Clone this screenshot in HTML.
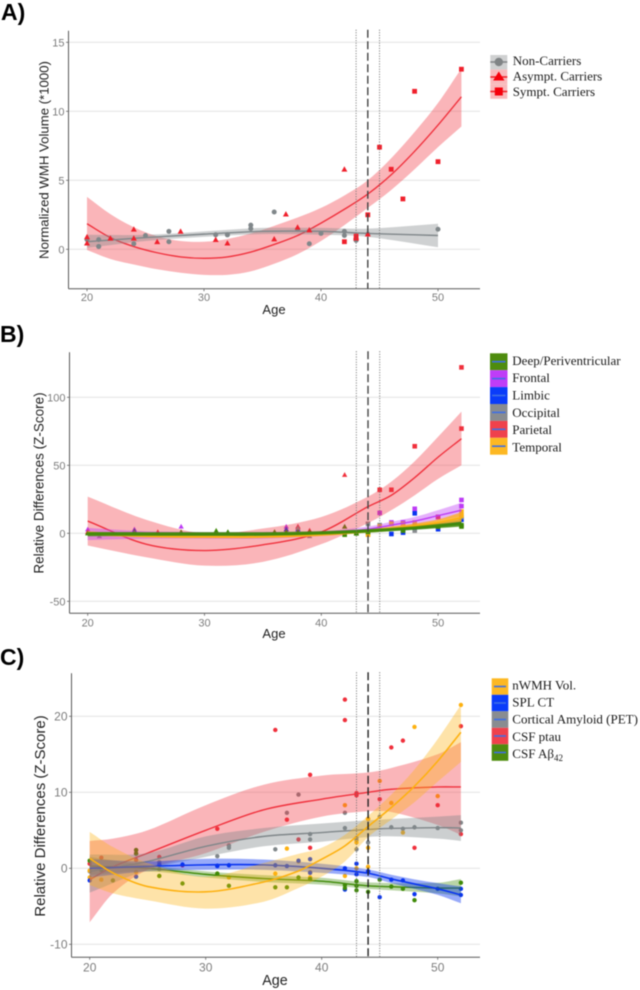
<!DOCTYPE html>
<html lang="en">
<head>
<meta charset="utf-8">
<title>WMH volume and relative differences by age</title>
<style>
html,body{margin:0;padding:0;background:#fff;}
#figure{display:block;width:640px;height:990px;filter:blur(0.4px);}
text{font-family:"Liberation Sans",sans-serif;}
.tick{fill:#7d7d7d;}
.axis-title{fill:#222;}
.panel-tag{font-size:23px;font-weight:bold;fill:#000;}
.legend-text{font-family:"Liberation Serif",serif;font-size:13px;fill:#1a1a1a;}
</style>
</head>
<body>
<svg id="figure" xmlns="http://www.w3.org/2000/svg" width="640" height="990" viewBox="0 0 640 990">
  <text class="panel-tag" x="1" y="20">A)</text>
  <text class="panel-tag" x="0" y="342">B)</text>
  <text class="panel-tag" x="0" y="665">C)</text>

  <g id="panel-a"></g>
  <g id="panel-b"></g>
  <g id="panel-c"></g>

  <g>
    <rect x="490.3" y="55" width="17" height="14.6" fill="#cfd0d1"/>
    <rect x="490.3" y="69.6" width="17" height="14.6" fill="#f9b9bc"/>
    <rect x="490.3" y="84.2" width="17" height="14.6" fill="#f9b9bc"/>
    <line x1="490.3" x2="507.3" y1="62" y2="62" stroke="#808486" stroke-width="1.5"/>
    <circle cx="498.8" cy="62" r="4.2" fill="#808486"/>
    <line x1="490.3" x2="507.3" y1="77" y2="77" stroke="#f01c24" stroke-width="1.5"/>
    <polygon points="498.8,71.5 504.5,80.5 493.1,80.5" fill="#f6000c"/>
    <line x1="490.3" x2="507.3" y1="91.5" y2="91.5" stroke="#f01c24" stroke-width="1.5"/>
    <rect x="494.8" y="87.5" width="8" height="8" fill="#f6000c"/>
    <text class="legend-text" x="512.7" y="65">Non-Carriers</text>
    <text class="legend-text" x="512.7" y="80.5">Asympt. Carriers</text>
    <text class="legend-text" x="512.7" y="96">Sympt. Carriers</text>
  </g>

  <g>
    <rect x="490" y="353.3" width="17.5" height="16.9" fill="#4e8c0e"/>
    <rect x="490" y="370.2" width="17.5" height="16.9" fill="#bf3df7"/>
    <rect x="490" y="387.1" width="17.5" height="16.9" fill="#0a3cfa"/>
    <rect x="490" y="404" width="17.5" height="16.9" fill="#898c90"/>
    <rect x="490" y="420.9" width="17.5" height="16.9" fill="#ef414c"/>
    <rect x="490" y="437.8" width="17.5" height="16.9" fill="#fdb823"/>
    <g stroke="#3e6fe6" stroke-width="1.6">
      <line x1="492" x2="505.5" y1="361.7" y2="361.7"/>
      <line x1="492" x2="505.5" y1="378.6" y2="378.6"/>
      <line x1="492" x2="505.5" y1="395.5" y2="395.5"/>
      <line x1="492" x2="505.5" y1="412.4" y2="412.4"/>
      <line x1="492" x2="505.5" y1="429.3" y2="429.3"/>
      <line x1="492" x2="505.5" y1="446.2" y2="446.2"/>
    </g>
    <text class="legend-text" x="512.3" y="365">Deep/Periventricular</text>
    <text class="legend-text" x="512.3" y="382">Frontal</text>
    <text class="legend-text" x="512.3" y="399.5">Limbic</text>
    <text class="legend-text" x="512.3" y="417">Occipital</text>
    <text class="legend-text" x="512.3" y="434">Parietal</text>
    <text class="legend-text" x="512.3" y="451.5">Temporal</text>
  </g>

  <g>
    <rect x="491.7" y="678.3" width="16.6" height="16.5" fill="#fdb823"/>
    <rect x="491.7" y="694.8" width="16.6" height="16.5" fill="#0a3cfa"/>
    <rect x="491.7" y="711.3" width="16.6" height="16.5" fill="#898c90"/>
    <rect x="491.7" y="727.8" width="16.6" height="16.5" fill="#ef414c"/>
    <rect x="491.7" y="744.3" width="16.6" height="16.5" fill="#4e8c0e"/>
    <g stroke="#3e6fe6" stroke-width="1.6">
      <line x1="494" x2="506" y1="686.5" y2="686.5"/>
      <line x1="494" x2="506" y1="703" y2="703"/>
      <line x1="494" x2="506" y1="719.5" y2="719.5"/>
      <line x1="494" x2="506" y1="736" y2="736"/>
      <line x1="494" x2="506" y1="752.5" y2="752.5"/>
    </g>
    <text class="legend-text" x="512.3" y="689.5">nWMH Vol.</text>
    <text class="legend-text" x="512.3" y="706.5">SPL CT</text>
    <text class="legend-text" x="512.3" y="723.5">Cortical Amyloid (PET)</text>
    <text class="legend-text" x="512.3" y="741">CSF ptau</text>
    <text class="legend-text" x="512.3" y="758">CSF Aβ<tspan font-size="9" dy="3">42</tspan></text>
  </g>
</svg>

<script>
// ---------- shared ----------
const ageTicks = [20, 30, 40, 50];
const onsetLines = [43, 44, 45];

// ---------- panel A data ----------
const aTicks = [0, 5, 10, 15];
const aCurveAges = [20,22,24,26,28,30,32,34,36,38,40,42,44,46,48,50,52];
const aSymptLine = [1.85,0.85,0.2,-0.25,-0.55,-0.65,-0.55,-0.2,0.35,1.0,1.9,2.9,4.0,5.4,7.1,9.0,11.05];
const aSymptUpper = [3.8,2.55,1.6,0.95,0.6,0.55,0.75,1.15,1.7,2.3,3.0,3.9,5.0,6.6,8.5,10.6,13.1];
const aSymptLower = [-0.05,-0.7,-1.1,-1.45,-1.7,-1.85,-1.85,-1.6,-1.05,-0.35,0.6,1.75,3.0,4.3,5.8,7.4,8.9];
const aNonAges = [20,25,30,35,40,44,50];
const aNonLine = [0.55,0.85,1.1,1.3,1.3,1.15,1.0];
const aNonUpper = [1.05,1.05,1.3,1.55,1.55,1.5,1.85];
const aNonLower = [0.1,0.6,0.9,1.1,1.05,0.9,0.15];
const aNonPointAges = [20,21,21,21,24,25,27,27,31,32,32,34,34,36,38,39,40,42,42,43,43,44,50];
const aNonPointValues = [0.7,0.7,0.2,0.2,0.4,1.0,1.3,0.55,1.05,1.05,1.05,1.75,1.5,2.7,1.45,0.4,1.15,1.3,1.0,0.65,0.75,1.1,1.45];
const aAsymptAges = [20,20,22,24,24,26,28,31,32,36,37,38,39,42,43,43,44];
const aAsymptValues = [0.9,0.45,0.8,1.45,0.8,0.55,1.3,0.7,0.45,0.75,2.55,1.6,1.4,5.8,0.9,0.8,1.1];
const aSymptAges = [42,43,44,45,46,47,48,50,52];
const aSymptValues = [0.55,0.95,2.5,7.4,5.8,3.65,11.45,6.35,13.05];

// ---------- panel B data ----------
const bTicks = [-50, 0, 50, 100];
const bCurveAges = [20,25,30,35,40,44,46,48,50,52];
const bParietalLine = [9,-8,-12.7,-8.5,1,19.6,28,41,56,69.6];
const bParietalUpper = [27,10,0,3.5,12,27,38,53,71,89.5];
const bParietalLower = [-9,-17.6,-23.8,-21,-8,7.5,17,28,40,50];
const bFrontalLine = [0,-0.5,-1,-1,0,3,6,9,13,17];
const bFrontalUpper = [4,1.5,1,1,1.5,5,8.5,12,17,22.5];
const bFrontalLower = [-5,-4,-4,-4,-2,1,3.5,6,9,12.5];
const bLimbicLine = [0,-1,-1,-1,0,2,3,4,6,8];
const bLimbicUpper = [1,0,0,0,1,3,4,5.5,7.5,10];
const bLimbicLower = [-1,-2,-2,-2,-1,1,2,2.5,4.5,6];
const bOccipitalLine = [-1,-1,-1,-1,0,2,3,5,7,9.5];
const bOccipitalUpper = [0.5,0,0,0,1,3,4,6.5,8.5,12];
const bOccipitalLower = [-2.5,-2,-2,-2,-1,1,2,3.5,5.5,7];
const bTemporalLine = [0,-2,-2.5,-2.5,-1,1.5,3.5,5.5,8,11.5];
const bTemporalUpper = [1.5,-1,-1.5,-1.5,0,2.8,5,7.2,10.2,15.5];
const bTemporalLower = [-1.5,-3,-3.5,-3.5,-2,0.5,2,4,6,8.5];
const bDeepLine = [-0.5,-0.5,-0.5,-0.5,0.3,1.8,2.8,3.8,5.2,7];
const bDeepUpper = [1,0.9,0.9,0.9,1.6,3.1,4,5.2,6.8,8.6];
const bDeepLower = [-2,-1.9,-1.9,-1.9,-1,0.5,1.5,2.6,3.8,5];

const bFrontalAges = [20,24,28,37,38,39,42,45,46,47,48,50,52,52];
const bFrontalValues = [3,3,5,5,5,2,5,15,8,8,18,12,24.5,20];
const bFrontalSquaresFrom = 7;
const bParietalAges = [20,26,31,32,36,37,38,39,42,43,45,46,48,50,52,52];
const bParietalValues = [1,1,1,0.5,1,3,5,2,43,0,32,32,64,12,122,77];
const bParietalSquaresFrom = 10;
const bLimbicAges = [24,37,38,46,47,48,50,52];
const bLimbicValues = [2,3,3,-0.5,0.5,14.7,3,10];
const bLimbicSquaresFrom = 3;
const bOccipitalAges = [21,39,38,44,45,46,47,48,50,52];
const bOccipitalValues = [-2,-2,4,7,6,7,7,2,5,12];
const bOccipitalSquaresFrom = 3;
const bTemporalAges = [44,45,46,47,48,52,52];
const bTemporalValues = [-1,5,7,7,8,16,13];
const bTemporalSquaresFrom = 0;
const bDeepAges = [20,24,28,31,32,36,37,38,39,42,43,42,43,44,47,48,50,52,52];
const bDeepValues = [0,1,1,2,1,1,1,1,1,5,0,-1,0,1,2,5,5,5,6];
const bDeepSquaresFrom = 11;

// ---------- panel C data ----------
const cTicks = [-10, 0, 10, 20];
const cPtauAges = [20,22,25,30,35,40,44,46,50,52];
const cPtauLine = [-1.5,0.2,2,5,7.7,9.1,10,10.4,10.7,10.7];
const cPtauUpper = [3.6,3.9,5,8.3,11,12.2,12.6,13.2,15,16.6];
const cPtauLower = [-7.1,-3.3,-0.2,2,4.8,6.8,7.5,7.4,5.7,4.4];
const cNwmhAges = [20,22,25,30,35,38,40,42,44,46,48,50,52];
const cNwmhLine = [1.3,-0.6,-2.4,-3.1,-1.8,-0.35,1.2,2.95,5.5,8,10.8,14.1,17.9];
const cNwmhUpper = [4.8,2.8,0.7,-1.1,0.7,1.9,2.7,4.4,6.9,9.7,13,17,21.5];
const cNwmhLower = [-2.2,-3.3,-4.2,-5.3,-4.4,-2.6,-1.1,0.9,4.1,6.4,8.7,11.4,14];
const cAmyloidAges = [20,25,30,35,40,45,50,52];
const cAmyloidLine = [-0.4,0.9,2.9,4.2,4.7,5.2,5.35,5.3];
const cAmyloidUpper = [1.8,2,4.2,5.3,5.9,6.4,6.8,7];
const cAmyloidLower = [-3.2,-0.2,1.5,2.9,3.5,4.2,3.9,3.6];
const cSplAges = [20,25,30,35,40,44,46,48,50,52];
const cSplLine = [0,0.25,0.45,0.45,0,-0.65,-1.4,-2.06,-2.7,-3.5];
const cSplUpper = [1.2,0.9,1.25,1.15,0.6,-0.15,-0.85,-1.45,-1.95,-2.4];
const cSplLower = [-1.2,-0.4,-0.2,-0.2,-0.6,-1.15,-1.95,-2.7,-3.5,-4.6];
const cAbetaAges = [20,25,30,35,40,44,50,52];
const cAbetaLine = [0.3,0,-0.8,-1.35,-1.7,-2.3,-2.6,-2.6];
const cAbetaUpper = [1.5,0.4,-0.4,-0.9,-1.25,-1.85,-1.9,-1.4];
const cAbetaLower = [-0.9,-0.4,-1.2,-1.8,-2.15,-2.7,-3.3,-3.7];

const cPtauPointAges = [20,21,24,26,28,31,32,36,37,38,39,39,42,42,43,43,44,45,46,47,48,50,52,52];
const cPtauPointValues = [0.6,1.4,1.1,1.5,0.4,5.2,3,18.2,6.4,3.8,12.3,2.7,22.2,19.5,9.6,9.9,6.5,9.1,15.9,16.8,2.7,8.3,18.7,4.5];
const cAmyloidPointAges = [20,24,24,26,26,31,32,32,36,37,38,39,39,42,42,43,43,43,44,45,46,47,48,50,52,52];
const cAmyloidPointValues = [-0.4,2.4,2,0.8,-0.1,1.6,2.7,3,2.5,7.3,9.7,4.5,3.8,5.3,7.3,4,3.7,2.5,3.4,6.8,5.4,5.2,5.4,5.3,6,5];
const cNwmhPointAges = [20,20,21,24,26,31,32,36,37,38,39,39,42,42,43,43,44,44,44,45,46,47,48,50,52];
const cNwmhPointValues = [-0.3,-1.2,-1.5,-0.5,-1,-0.7,-1.2,-0.7,2.6,0.9,-1.2,-0.5,8.3,-1,0,3.4,2.7,6.5,0.2,11.5,8.6,4.7,18.6,9.5,21.5];
const cSplPointAges = [20,24,26,28,31,31,32,36,37,38,39,39,42,42,43,43,44,44,45,46,47,48,50,52,52];
const cSplPointValues = [-1.6,-1.1,0.5,0.5,0.3,0.35,0.4,0.4,0.3,1,1.2,-0.6,0,-2.8,0.6,-0.8,-0.4,-0.4,-3.8,-1.5,-1.6,-3.4,-2.7,-2.7,-3.5];
const cAbetaPointAges = [20,21,22,24,24,26,28,31,32,36,37,38,39,42,42,43,43,43,44,45,46,47,48,52];
const cAbetaPointValues = [1,-0.2,-1.6,2.4,1.9,-1,-2,-0.7,-2.3,-2.5,-2.5,-1.2,-1.4,-2.2,-2.6,-1.7,-2.3,-2.9,-3.1,-1.5,-2.4,-2.7,-4.2,-1.9];

// ---------- drawing ----------
const SVG_NS = 'http://www.w3.org/2000/svg';
function make(tag, attrs, parent) {
  const node = document.createElementNS(SVG_NS, tag);
  for (const k in attrs) node.setAttribute(k, attrs[k]);
  parent.appendChild(node);
  return node;
}
function smoothPath(pts, start) {
  const n = pts.length;
  const slope = pts.map(function (pt, i) {
    const a = pts[Math.max(i - 1, 0)], b = pts[Math.min(i + 1, n - 1)];
    return (b[1] - a[1]) / (b[0] - a[0]);
  });
  let d = (start ? 'M' : 'L') + pts[0][0].toFixed(2) + ',' + pts[0][1].toFixed(2);
  for (let i = 0; i < n - 1; i++) {
    const p1 = pts[i], p2 = pts[i + 1], dx = (p2[0] - p1[0]) / 3;
    d += 'C' + (p1[0] + dx).toFixed(2) + ',' + (p1[1] + slope[i] * dx).toFixed(2) + ' ' +
         (p2[0] - dx).toFixed(2) + ',' + (p2[1] - slope[i + 1] * dx).toFixed(2) + ' ' +
         p2[0].toFixed(2) + ',' + p2[1].toFixed(2);
  }
  return d;
}
function drawFrame(p) {
  const g = p.group;
  p.yTicks.forEach(function (t) {
    const y = p.y(t);
    const grid = make('line', {x1: p.left, x2: p.right, y1: y, y2: y, stroke: '#e3e3e3', 'stroke-width': 1}, g);
    
    
    const mark = make('line', {x1: p.left - 2.5, x2: p.left, y1: y, y2: y, stroke: '#666', 'stroke-width': 0.8}, g);
    
    
    const label = make('text', {x: p.left - 4, y: y + p.tickSize * 0.36, 'text-anchor': 'end', class: 'tick', 'font-size': p.tickSize}, g);
    label.textContent = t;
    
    
  });
  ageTicks.forEach(function (t) {
    const x = p.x(t);
    const mark = make('line', {x1: x, x2: x, y1: p.bottom, y2: p.bottom + 2.5, stroke: '#666', 'stroke-width': 0.8}, g);
    
    
    const label = make('text', {x: x, y: p.bottom + p.tickGap, 'text-anchor': 'middle', class: 'tick', 'font-size': p.tickSize}, g);
    label.textContent = t;
    
    
  });
  const xt = make('text', {x: p.xTitleX, y: p.xTitleY, 'text-anchor': 'middle', class: 'axis-title', 'font-size': p.xTitleSize}, g);
  xt.textContent = 'Age';
  
  
  const yt = make('text', {transform: 'translate(' + p.yTitleX + ',' + p.yTitleY + ') rotate(-90)', 'text-anchor': 'middle', class: 'axis-title', 'font-size': p.yTitleSize}, g);
  yt.textContent = p.yTitle;
  
  
}
function drawAxes(p) {
  const g = p.group;
  const ya = make('line', {x1: p.left, x2: p.left, y1: p.top, y2: p.bottom, stroke: '#5a5a5a', 'stroke-width': 1}, g);
  
  
  const xa = make('line', {x1: p.left, x2: p.right, y1: p.bottom, y2: p.bottom, stroke: '#5a5a5a', 'stroke-width': 1}, g);
  
  
}
function drawOnset(p) {
  onsetLines.forEach(function (age) {
    const main = age === onsetLines[1];
    const attrs = {x1: p.x(age), x2: p.x(age), y1: p.top - 1, y2: p.bottom,
      stroke: main ? p.dashColor : '#6f6f6f', 'stroke-width': main ? 1.4 : 1,
      'stroke-dasharray': main ? '8 3.5' : '1 1.6'};
    const line = make('line', attrs, p.group);
    
    
  });
}
function drawPoints(p, name, ages, values, color, size, squaresFrom, shape) {
  ages.forEach(function (age, i) {
    const x = p.x(age), y = p.y(values[i]);
    let kind = shape;
    if (squaresFrom !== null) kind = i >= squaresFrom ? 'square' : 'triangle';
    let mark;
    if (kind === 'circle') {
      mark = make('circle', {cx: x, cy: y, r: size, fill: color}, p.group);
    } else if (kind === 'square') {
      mark = make('rect', {x: x - size, y: y - size, width: size * 2, height: size * 2, fill: color}, p.group);
    } else {
      const r = size * 1.15;
      mark = make('polygon', {points: x + ',' + (y - r) + ' ' + (x + r) + ',' + (y + r * 0.8) + ' ' + (x - r) + ',' + (y + r * 0.8), fill: color}, p.group);
    }
    
    
  });
}
function drawFit(p, name, ages, line, upper, lower, color, alpha, width) {
  const up = ages.map(function (a, i) { return [p.x(a), p.y(upper[i])]; });
  const low = ages.map(function (a, i) { return [p.x(a), p.y(lower[i])]; }).reverse();
  const band = make('path', {d: smoothPath(up, true) + smoothPath(low, false) + 'Z', fill: color, 'fill-opacity': alpha}, p.group);
  
  
  const mid = ages.map(function (a, i) { return [p.x(a), p.y(line[i])]; });
  const curve = make('path', {d: smoothPath(mid, true), fill: 'none', stroke: color, 'stroke-width': width}, p.group);
  
  
}
function makePanel(id, opts) {
  const p = Object.assign({id: id, group: document.getElementById(id), dashColor: '#444'}, opts);
  p.x = function (age) { return opts.x20 + (age - 20) * opts.pxPerYear; };
  p.y = function (v) { return opts.y0 - v * opts.pxPerUnit; };
  return p;
}

const RED = '#ee3741', GREY = '#80878a', ORANGE = '#fdb111', BLUE = '#0a35f0', GREEN = '#3f8a08', PURPLE = '#bd3bf5';

// Panel A
const pA = makePanel('panel-a', {x20: 87, pxPerYear: 11.7, y0: 249.3, pxPerUnit: 13.8, left: 68.5, right: 480, top: 30.7, bottom: 288.7,
  yTicks: aTicks, yTitle: 'Normalized WMH Volume (*1000)', xTitleX: 274, xTitleY: 314, yTitleX: 48.5, yTitleY: 160,
  tickSize: 11, tickGap: 12.5, xTitleSize: 13, yTitleSize: 13.2});
drawFrame(pA);
drawFit(pA, 'sympt-carriers', aCurveAges, aSymptLine, aSymptUpper, aSymptLower, '#f0323e', 0.36, 1.4);
drawFit(pA, 'non-carriers', aNonAges, aNonLine, aNonUpper, aNonLower, GREY, 0.38, 1.4);
drawPoints(pA, 'non-carriers', aNonPointAges, aNonPointValues, '#80878a', 2.5, null, 'circle');
drawPoints(pA, 'asympt-carriers', aAsymptAges, aAsymptValues, '#f0202c', 2.6, 99, 'triangle');
drawPoints(pA, 'sympt-carriers', aSymptAges, aSymptValues, '#f0202c', 2.4, 0, 'square');
drawAxes(pA);
drawOnset(pA);

// Panel B
const pB = makePanel('panel-b', {x20: 87.7, pxPerYear: 11.68, y0: 533.3, pxPerUnit: 1.36, left: 69.5, right: 480, top: 352.3, bottom: 613.3,
  yTicks: bTicks, yTitle: 'Relative Differences (Z-Score)', xTitleX: 274, xTitleY: 638, yTitleX: 43.5, yTitleY: 483,
  tickSize: 11, tickGap: 13, xTitleSize: 13, yTitleSize: 13.5});
drawFrame(pB);
drawPoints(pB, 'frontal', bFrontalAges, bFrontalValues, PURPLE, 2.3, bFrontalSquaresFrom, null);
drawPoints(pB, 'parietal', bParietalAges, bParietalValues, '#f0303c', 2.3, bParietalSquaresFrom, null);
drawPoints(pB, 'limbic', bLimbicAges, bLimbicValues, BLUE, 2.3, bLimbicSquaresFrom, null);
drawPoints(pB, 'occipital', bOccipitalAges, bOccipitalValues, '#898c90', 2.3, bOccipitalSquaresFrom, null);
drawPoints(pB, 'temporal', bTemporalAges, bTemporalValues, ORANGE, 2.3, bTemporalSquaresFrom, null);
drawPoints(pB, 'deep-periventricular', bDeepAges, bDeepValues, GREEN, 2.3, bDeepSquaresFrom, null);
drawFit(pB, 'parietal', bCurveAges, bParietalLine, bParietalUpper, bParietalLower, '#f0323e', 0.36, 1.4);
drawFit(pB, 'frontal', bCurveAges, bFrontalLine, bFrontalUpper, bFrontalLower, PURPLE, 0.4, 1.4);
drawFit(pB, 'limbic', bCurveAges, bLimbicLine, bLimbicUpper, bLimbicLower, BLUE, 0.36, 1.3);
drawFit(pB, 'occipital', bCurveAges, bOccipitalLine, bOccipitalUpper, bOccipitalLower, GREY, 0.55, 1.3);
drawFit(pB, 'temporal', bCurveAges, bTemporalLine, bTemporalUpper, bTemporalLower, ORANGE, 0.75, 1.6);
drawFit(pB, 'deep-periventricular', bCurveAges, bDeepLine, bDeepUpper, bDeepLower, GREEN, 0.85, 1.6);
drawAxes(pB);
drawOnset(pB);

// Panel C
const pC = makePanel('panel-c', {x20: 89.7, pxPerYear: 11.6, y0: 868.3, pxPerUnit: 7.6, left: 71.5, right: 480, top: 673.3, bottom: 957.3,
  yTicks: cTicks, yTitle: 'Relative Differences (Z-Score)', xTitleX: 275, xTitleY: 985, yTitleX: 45, yTitleY: 816, dashColor: '#222',
  tickSize: 12, tickGap: 14, xTitleSize: 14.3, yTitleSize: 15});
drawFrame(pC);
drawPoints(pC, 'csf-ptau', cPtauPointAges, cPtauPointValues, '#f0303c', 2.2, null, 'circle');
drawPoints(pC, 'cortical-amyloid', cAmyloidPointAges, cAmyloidPointValues, '#80878a', 2.2, null, 'circle');
drawPoints(pC, 'nwmh-vol', cNwmhPointAges, cNwmhPointValues, ORANGE, 2.2, null, 'circle');
drawPoints(pC, 'spl-ct', cSplPointAges, cSplPointValues, BLUE, 2.2, null, 'circle');
drawPoints(pC, 'csf-abeta42', cAbetaPointAges, cAbetaPointValues, GREEN, 2.2, null, 'circle');
drawFit(pC, 'csf-abeta42', cAbetaAges, cAbetaLine, cAbetaUpper, cAbetaLower, GREEN, 0.36, 1.4);
drawFit(pC, 'csf-ptau', cPtauAges, cPtauLine, cPtauUpper, cPtauLower, '#f0323e', 0.36, 1.4);
drawFit(pC, 'cortical-amyloid', cAmyloidAges, cAmyloidLine, cAmyloidUpper, cAmyloidLower, GREY, 0.4, 1.4);
drawFit(pC, 'spl-ct', cSplAges, cSplLine, cSplUpper, cSplLower, BLUE, 0.42, 1.6);
drawFit(pC, 'nwmh-vol', cNwmhAges, cNwmhLine, cNwmhUpper, cNwmhLower, ORANGE, 0.36, 1.6);
drawAxes(pC);
drawOnset(pC);
</script>
</body>
</html>
